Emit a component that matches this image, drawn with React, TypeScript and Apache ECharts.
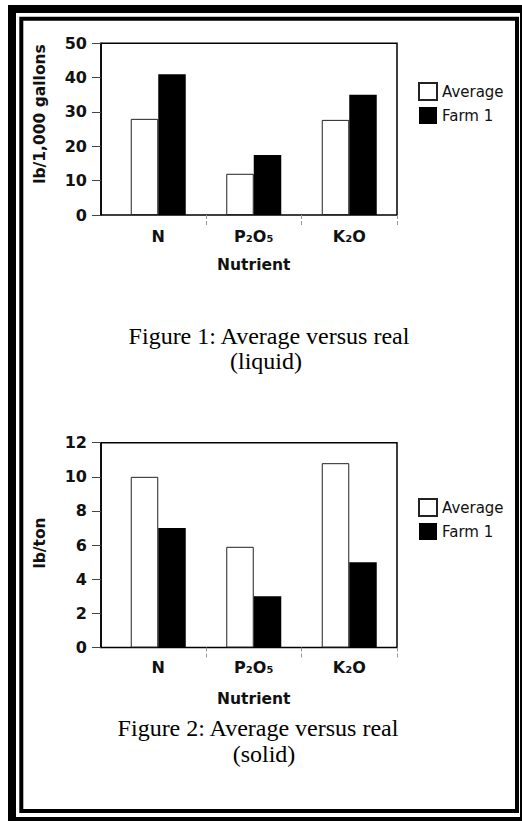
import React, { useEffect, useRef } from "react";
import * as echarts from "echarts";

// ---------- data ----------
const categories = ["N", "P₂O₅", "K₂O"];
const seriesNames = ["Average", "Farm 1"];
const liquidAverage = [28, 12, 27.7];
const liquidFarm1 = [41, 17.5, 35];
const solidAverage = [10, 5.9, 10.8];
const solidFarm1 = [7, 3, 5];
const liquidYTicks = [0, 10, 20, 30, 40, 50];
const solidYTicks = [0, 2, 4, 6, 8, 10, 12];
const liquidYName = "lb/1,000 gallons";
const solidYName = "lb/ton";
const xName = "Nutrient";
const caption1 = ["Figure 1: Average versus real", "(liquid)"];
const caption2 = ["Figure 2: Average versus real", "(solid)"];

// ---------- style ----------
const W = 522;
const H = 821;
const SANS = "DejaVu Sans";
const SERIF = "Liberation Serif";
const INK = "#111";

function tickRange(ticks: number[]) {
  return { min: ticks[0], max: ticks[ticks.length - 1], interval: ticks[1] - ticks[0] };
}

function panel(top: number, height: number, ticks: number[], nameGap: number, labelMargin: number) {
  const r = tickRange(ticks);
  const boxGrid = {
    left: 101,
    top,
    width: 296,
    height,
    show: true,
    borderColor: "#000",
    borderWidth: 1.5,
    backgroundColor: "transparent",
  };
  const barGrid = { left: 110.5, top, width: 286.5, height };
  const boxX = { type: "value", show: false, min: 0, max: 1 };
  const barX = {
    type: "category",
    data: categories,
    axisLine: { show: false },
    axisTick: {
      show: true,
      alignWithLabel: false,
      interval: (i: number) => i !== 0,
      length: 12,
      lineStyle: { color: "#999", type: "dashed", width: 1 },
    },
    axisLabel: {
      margin: labelMargin,
      fontFamily: SANS,
      fontWeight: "bold",
      fontSize: 16,
      color: INK,
    },
    name: xName,
    nameLocation: "middle",
    nameGap,
    nameTextStyle: { fontFamily: SANS, fontWeight: "bold", fontSize: 15.5, color: INK },
  };
  const boxY = {
    type: "value",
    min: r.min,
    max: r.max,
    interval: r.interval,
    axisLine: { show: true, lineStyle: { color: "#000", width: 1.5 } },
    axisTick: { show: true, length: 9, lineStyle: { color: "#444", width: 1 } },
    axisLabel: { margin: 14, fontFamily: SANS, fontWeight: "bold", fontSize: 16, color: INK },
    splitLine: { show: false },
  };
  const barY = { type: "value", show: false, min: r.min, max: r.max, interval: r.interval };
  return { boxGrid, barGrid, boxX, barX, boxY, barY };
}

export default function App() {
  const ref = useRef<HTMLDivElement>(null);

  useEffect(() => {
    if (!ref.current) return;
    const chart = echarts.init(ref.current, null, { renderer: "svg", width: W, height: H });

    const p1 = panel(43.3, 171.7, liquidYTicks, 42, 13);
    const p2 = panel(442.7, 204.8, solidYTicks, 43, 12);

    const avgStyle = { color: "#fff", borderColor: "#222", borderWidth: 1 };
    const farmStyle = { color: "#000" };

    const legendBase = {
      orient: "vertical",
      left: 418,
      padding: 0,
      itemWidth: 18,
      itemHeight: 17,
      itemGap: 6,
      icon: "rect",
      selectedMode: false,
      data: seriesNames,
      textStyle: { fontFamily: SANS, fontSize: 15, color: INK },
    };

    const yNameStyle = (text: string) => ({
      text,
      font: `bold 15.5px "${SANS}"`,
      fill: INK,
      align: "center",
      verticalAlign: "middle",
    });
    const capStyle = (text: string) => ({
      text,
      font: `24px "${SERIF}"`,
      fill: "#000",
      align: "center",
      verticalAlign: "middle",
    });

    const option: any = {
      animation: false,
      backgroundColor: "#fff",
      grid: [p1.boxGrid, p1.barGrid, p2.boxGrid, p2.barGrid],
      xAxis: [
        { ...p1.boxX, gridIndex: 0 },
        { ...p1.barX, gridIndex: 1 },
        { ...p2.boxX, gridIndex: 2 },
        { ...p2.barX, gridIndex: 3 },
      ],
      yAxis: [
        { ...p1.boxY, gridIndex: 0 },
        { ...p1.barY, gridIndex: 1 },
        { ...p2.boxY, gridIndex: 2 },
        { ...p2.barY, gridIndex: 3 },
      ],
      legend: [
        { ...legendBase, top: 82 },
        { ...legendBase, top: 498 },
      ],
      series: [
        { type: "bar", name: seriesNames[0], xAxisIndex: 1, yAxisIndex: 1, data: liquidAverage, barWidth: 27.5, barGap: "0%", itemStyle: avgStyle },
        { type: "bar", name: seriesNames[1], xAxisIndex: 1, yAxisIndex: 1, data: liquidFarm1, barWidth: 27.5, barGap: "0%", itemStyle: farmStyle },
        { type: "bar", name: seriesNames[0], xAxisIndex: 3, yAxisIndex: 3, data: solidAverage, barWidth: 27.5, barGap: "0%", itemStyle: avgStyle },
        { type: "bar", name: seriesNames[1], xAxisIndex: 3, yAxisIndex: 3, data: solidFarm1, barWidth: 27.5, barGap: "0%", itemStyle: farmStyle },
      ],
      graphic: [
        // page frames
        { type: "rect", silent: true, shape: { x: 12, y: 9, width: 512, height: 812 }, style: { fill: "none", stroke: "#000", lineWidth: 8 } },
        { type: "rect", silent: true, shape: { x: 21.3, y: 18.7, width: 495.7, height: 792.3 }, style: { fill: "none", stroke: "#000", lineWidth: 4 } },
        // y axis names (read bottom to top)
        { type: "text", x: 39.5, y: 114, rotation: Math.PI / 2, style: yNameStyle(liquidYName) },
        { type: "text", x: 40, y: 543, rotation: Math.PI / 2, style: yNameStyle(solidYName) },
        // captions
        { type: "text", x: 269, y: 336, style: capStyle(caption1[0]) },
        { type: "text", x: 266, y: 361, style: capStyle(caption1[1]) },
        { type: "text", x: 258, y: 728, style: capStyle(caption2[0]) },
        { type: "text", x: 264, y: 754, style: capStyle(caption2[1]) },
      ],
    };

    chart.setOption(option);
    return () => chart.dispose();
  }, []);

  return (
    <div
      ref={ref}
      style={{ position: "absolute", left: 0, top: 0, width: W, height: H, background: "#fff" }}
    />
  );
}
